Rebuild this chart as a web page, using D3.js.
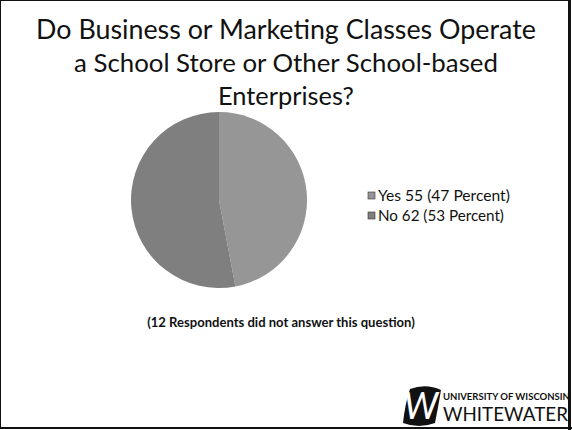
<!DOCTYPE html>
<html>
<head>
<meta charset="utf-8">
<script src="https://cdn.jsdelivr.net/npm/d3@7"></script>
<style>
  body { margin: 0; background: #fff; }
  svg { display: block; }
  text { font-family: Lato, "Open Sans", sans-serif; fill: #111; }
</style>
</head>
<body>
<svg></svg>
<script>
const size = {w: 572, h: 430};
const svg = d3.select('svg');

// data
const titleLines = ['Do Business or Marketing Classes Operate', 'a School Store or Other School-based', 'Enterprises?'];
const categories = ['Yes', 'No'];
const counts = [55, 62];
const percents = [47, 53];
const noAnswer = 12;
const sliceColors = ['#969696', '#7f7f7f'];

svg.attr('width', size.w).attr('height', size.h);

// frame
svg.append('rect')
    .attr('x', 0.5).attr('y', 0.5)
    .attr('width', size.w - 3).attr('height', size.h - 2)
    .attr('fill', '#fff')
    .attr('stroke', '#111')
    .attr('stroke-width', 1);
svg.append('rect')
    .attr('x', size.w - 4).attr('y', 0)
    .attr('width', 3).attr('height', size.h)
    .attr('fill', '#111');
svg.append('rect')
    .attr('x', 0).attr('y', size.h - 3)
    .attr('width', size.w).attr('height', 2)
    .attr('fill', '#111');

// helper: set the font size so the text spans a given width
function fitText(sel, width, base) {
    sel.attr('font-size', base);
    let len = sel.node().getComputedTextLength();
    sel.attr('font-size', base * width / len);
}

//TITLE
const titleWidths = [500, 424, 136];
const titleG = svg.append('g');
titleLines.forEach((t, i) => {
    let txt = titleG.append('text')
        .attr('x', 286)
        .attr('y', 39 + i * 33)
        .attr('text-anchor', 'middle')
        .text(t);
    fitText(txt, titleWidths[i], 26);
});

//PIE
const center = {x: 219, y: 200};
const radius = 88;
const pie = d3.pie().sort(null).value(d => d);
const arc = d3.arc().innerRadius(0).outerRadius(radius);

const pieG = svg.append('g')
    .attr('transform', `translate(${center.x}, ${center.y})`);

pieG.selectAll('path')
    .data(pie(counts))
    .join('path')
    .attr('d', arc)
    .attr('fill', (d, i) => sliceColors[i]);

//LEGEND
const legend = svg.append('g')
    .attr('transform', 'translate(368, 196)');
const legendStep = 20;

legend.selectAll('rect')
    .data(categories)
    .join('rect')
    .attr('x', 0)
    .attr('y', (d, i) => i * legendStep - 4)
    .attr('width', 7)
    .attr('height', 7)
    .attr('fill', (d, i) => sliceColors[i])
    .attr('stroke', '#333')
    .attr('stroke-width', 0.6);

legend.selectAll('text')
    .data(categories)
    .join('text')
    .attr('x', 10)
    .attr('y', (d, i) => i * legendStep + 5)
    .text((d, i) => `${d} ${counts[i]} (${percents[i]} Percent)`)
    .each(function(d, i) {
        fitText(d3.select(this), i == 0 ? 132 : 126, 14);
    });

//NOTE
let note = svg.append('text')
    .attr('x', 281)
    .attr('y', 327)
    .attr('text-anchor', 'middle')
    .attr('font-weight', 'bold')
    .text(`(${noAnswer} Respondents did not answer this question)`);
fitText(note, 268, 12);

//LOGO
const logo = svg.append('g').attr('transform', 'translate(402, 386)');
logo.append('path')
    .attr('d', 'M8,3 Q24,-3 39,4 Q36,22 33,37 Q17,43 1,37 Q3,18 8,3 Z')
    .attr('fill', '#111');
logo.append('text')
    .attr('x', 19)
    .attr('y', 33)
    .attr('text-anchor', 'middle')
    .attr('font-family', '"DejaVu Serif", serif')
    .attr('font-style', 'italic')
    .attr('font-size', 36)
    .style('fill', '#fff')
    .text('W');
let uni = logo.append('text')
    .attr('x', 41).attr('y', 14)
    .attr('font-family', '"Liberation Serif", serif')
    .attr('font-weight', 'bold')
    .text('UNIVERSITY OF WISCONSIN');
fitText(uni, 127, 8);
let ww = logo.append('text')
    .attr('x', 41).attr('y', 35)
    .attr('font-family', '"Liberation Serif", serif')
    .text('WHITEWATER');
fitText(ww, 125, 22);
</script>
</body>
</html>
